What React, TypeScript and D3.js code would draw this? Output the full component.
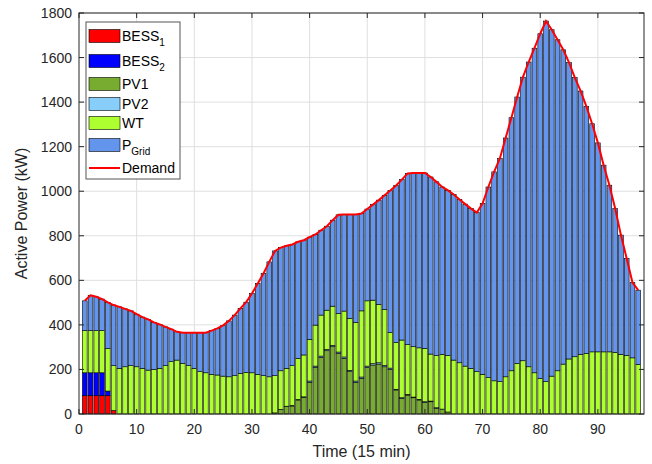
import React from 'react';
import * as d3 from 'd3';

// time steps (15 min)
const time = d3.range(1, 98);

const bess1 = [
  82, 82, 82, 82, 82, 16, 0, 0, 0, 0,
  0, 0, 0, 0, 0, 0, 0, 0, 0, 0,
  0, 0, 0, 0, 0, 0, 0, 0, 0, 0,
  0, 0, 0, 0, 0, 0, 0, 0, 0, 0,
  0, 0, 0, 0, 0, 0, 0, 0, 0, 0,
  0, 0, 0, 0, 0, 0, 0, 0, 0, 0,
  0, 0, 0, 0, 0, 0, 0, 0, 0, 0,
  0, 0, 0, 0, 0, 0, 0, 0, 0, 0,
  0, 0, 0, 0, 0, 0, 0, 0, 0, 0,
  0, 0, 0, 0, 0, 0, 0,
];

const bess2 = [
  103, 103, 103, 103, 21, 0, 0, 0, 0, 0,
  0, 0, 0, 0, 0, 0, 0, 0, 0, 0,
  0, 0, 0, 0, 0, 0, 0, 0, 0, 0,
  0, 0, 0, 0, 0, 0, 0, 0, 0, 0,
  0, 0, 0, 0, 0, 0, 0, 0, 0, 0,
  0, 0, 0, 0, 0, 0, 0, 0, 0, 0,
  0, 0, 0, 0, 0, 0, 0, 0, 0, 0,
  0, 0, 0, 0, 0, 0, 0, 0, 0, 0,
  0, 0, 0, 0, 0, 0, 0, 0, 0, 0,
  0, 0, 0, 0, 0, 0, 0,
];

const pv1 = [
  0, 0, 0, 0, 0, 0, 0, 0, 0, 0,
  0, 0, 0, 0, 0, 0, 0, 0, 0, 0,
  0, 0, 0, 0, 0, 0, 0, 0, 0, 0,
  0, 0, 0, 5, 21, 33, 36, 63, 75, 142,
  209, 254, 284, 302, 272, 250, 190, 142, 160, 209,
  220, 224, 212, 200, 108, 70, 85, 73, 63, 52,
  55, 25, 22, 9, 0, 0, 0, 0, 0, 0,
  0, 0, 0, 0, 0, 0, 0, 0, 0, 0,
  0, 0, 0, 0, 0, 0, 0, 0, 0, 0,
  0, 0, 0, 0, 0, 0, 0,
];

const pv2 = [
  0, 0, 0, 0, 0, 0, 0, 0, 0, 0,
  0, 0, 0, 0, 0, 0, 0, 0, 0, 0,
  0, 0, 0, 0, 0, 0, 0, 0, 0, 0,
  0, 0, 0, 0, 0, 2, 2, 2, 2, 6,
  6, 6, 6, 6, 6, 6, 6, 6, 6, 6,
  6, 6, 6, 6, 3, 3, 3, 3, 3, 3,
  3, 3, 0, 0, 0, 0, 0, 0, 0, 0,
  0, 0, 0, 0, 0, 0, 0, 0, 0, 0,
  0, 0, 0, 0, 0, 0, 0, 0, 0, 0,
  0, 0, 0, 0, 0, 0, 0,
];

const wt = [
  189, 189, 189, 189, 191, 201, 205, 212, 217, 212,
  205, 197, 200, 205, 217, 235, 242, 227, 217, 205,
  190, 185, 178, 175, 170, 167, 172, 182, 187, 185,
  178, 172, 167, 167, 173, 170, 179, 185, 188, 187,
  184, 184, 176, 176, 173, 206, 233, 263, 297, 293,
  285, 262, 251, 160, 210, 259, 224, 226, 231, 239,
  211, 234, 246, 254, 242, 230, 215, 205, 190, 178,
  163, 149, 145, 167, 194, 227, 239, 212, 185, 160,
  145, 170, 194, 224, 247, 257, 268, 272, 279, 279,
  279, 279, 277, 268, 263, 252, 223,
];

const grid = [
  134, 159, 152, 142, 207, 272, 276, 260, 246, 236,
  230, 228, 211, 197, 174, 146, 127, 138, 148, 160,
  175, 180, 196, 209, 228, 251, 272, 292, 315, 356,
  408, 459, 516, 560, 553, 550, 544, 523, 515, 459,
  407, 381, 377, 386, 443, 434, 467, 485, 437, 412,
  429, 468, 513, 637, 705, 720, 768, 780, 785, 788,
  795, 780, 751, 741, 743, 733, 727, 717, 714, 767,
  856, 938, 1002, 1072, 1136, 1196, 1273, 1368, 1457, 1547,
  1619, 1555, 1486, 1411, 1330, 1253, 1182, 1109, 1024, 938,
  838, 748, 645, 535, 435, 338, 333,
];

const demand = [
  508, 533, 526, 516, 501, 489, 481, 472, 463, 448,
  435, 425, 411, 402, 391, 381, 369, 365, 365, 365,
  365, 365, 374, 384, 398, 418, 444, 474, 502, 541,
  586, 631, 683, 732, 747, 755, 761, 773, 780, 794,
  806, 825, 843, 870, 894, 896, 896, 896, 900, 920,
  940, 960, 982, 1003, 1026, 1052, 1080, 1082, 1082, 1082,
  1064, 1042, 1019, 1004, 985, 963, 942, 922, 904, 945,
  1019, 1087, 1147, 1239, 1330, 1423, 1512, 1580, 1642, 1707,
  1764, 1725, 1680, 1635, 1577, 1510, 1450, 1381, 1303, 1217,
  1117, 1027, 922, 803, 698, 590, 556,
];

const xTicks = [0, 10, 20, 30, 40, 50, 60, 70, 80, 90];
const yTicks = [0, 200, 400, 600, 800, 1000, 1200, 1400, 1600, 1800];

const keys = ['bess1', 'bess2', 'pv1', 'pv2', 'wt', 'grid'];
const colors: Record<string, string> = {
  bess1: '#ff0000',
  bess2: '#0000ff',
  pv1: '#77ac30',
  pv2: '#87cefa',
  wt: '#adff2f',
  grid: '#6495ed',
};

const W = 652;
const H = 464;
const left = 79, right = 644, top = 13, bottom = 414;
const font = '"Liberation Sans", Arial, Helvetica, sans-serif';
const axisColor = '#262626';

export default function App() {
  const x = d3.scaleLinear().domain([0, 98]).range([left, right]);
  const y = d3.scaleLinear().domain([0, 1800]).range([bottom, top]);

  const rows = time.map((t, i) => ({
    t,
    bess1: bess1[i],
    bess2: bess2[i],
    pv1: pv1[i],
    pv2: pv2[i],
    wt: wt[i],
    grid: grid[i],
  }));
  const series = d3.stack<any>().keys(keys)(rows);
  const bw = (x(1) - x(0)) * 0.82;

  const line = d3
    .line<number>()
    .x((_, i) => x(time[i]))
    .y((d) => y(d));

  const legendItems = [
    { key: 'bess1', label: 'BESS', sub: '1', cy: 36 },
    { key: 'bess2', label: 'BESS', sub: '2', cy: 61 },
    { key: 'pv1', label: 'PV1', sub: '', cy: 84 },
    { key: 'pv2', label: 'PV2', sub: '', cy: 104 },
    { key: 'wt', label: 'WT', sub: '', cy: 123 },
    { key: 'grid', label: 'P', sub: 'Grid', cy: 145 },
  ];

  return (
    <svg
      width={W}
      height={H}
      style={{ position: 'absolute', left: 0, top: 0, background: '#fff' }}
      fontFamily={font}
    >
      <rect x={0} y={0} width={W} height={H} fill="#fff" />
      {/* grid */}
      {xTicks.slice(1).map((t) => (
        <line key={'gx' + t} x1={x(t)} x2={x(t)} y1={top} y2={bottom} stroke="#dfdfdf" strokeWidth={1} />
      ))}
      {yTicks.slice(1).map((t) => (
        <line key={'gy' + t} x1={left} x2={right} y1={y(t)} y2={y(t)} stroke="#dfdfdf" strokeWidth={1} />
      ))}

      {/* stacked bars */}
      {series.map((s) => (
        <g key={s.key} fill={colors[s.key]} stroke="#000" strokeWidth={0.6}>
          {s.map((d: any) =>
            d[1] - d[0] > 0 ? (
              <rect
                key={d.data.t}
                x={x(d.data.t) - bw / 2}
                y={y(d[1])}
                width={bw}
                height={y(d[0]) - y(d[1])}
              />
            ) : null
          )}
        </g>
      ))}

      {/* demand */}
      <path d={line(demand) || ''} fill="none" stroke="#ff0000" strokeWidth={2} />

      {/* axes box */}
      <rect x={left} y={top} width={right - left} height={bottom - top} fill="none" stroke={axisColor} strokeWidth={1} />
      {xTicks.map((t) => (
        <g key={'tx' + t}>
          <line x1={x(t)} x2={x(t)} y1={bottom} y2={bottom - 5} stroke={axisColor} />
          <line x1={x(t)} x2={x(t)} y1={top} y2={top + 5} stroke={axisColor} />
          <text x={x(t)} y={bottom + 20} textAnchor="middle" fontSize={14} fill={axisColor}>
            {t}
          </text>
        </g>
      ))}
      {yTicks.map((t) => (
        <g key={'ty' + t}>
          <line x1={left} x2={left + 5} y1={y(t)} y2={y(t)} stroke={axisColor} />
          <line x1={right} x2={right - 5} y1={y(t)} y2={y(t)} stroke={axisColor} />
          <text x={left - 7} y={y(t) + 5} textAnchor="end" fontSize={14} fill={axisColor}>
            {t}
          </text>
        </g>
      ))}
      <text x={(left + right) / 2} y={457} textAnchor="middle" fontSize={16} fill={axisColor}>
        Time (15 min)
      </text>
      <text
        transform={`translate(27,${(top + bottom) / 2}) rotate(-90)`}
        textAnchor="middle"
        fontSize={16}
        fill={axisColor}
      >
        Active Power (kW)
      </text>

      {/* legend */}
      <rect x={86} y={22} width={94} height={157} fill="#fff" stroke="#555" strokeWidth={1} />
      {legendItems.map((it) => (
        <g key={it.key}>
          <rect x={89} y={it.cy - 6.5} width={31} height={13} fill={colors[it.key]} stroke="#000" strokeWidth={0.6} />
          <text x={122} y={it.cy + 5} fontSize={14} fill="#000">
            {it.label}
            {it.sub ? (
              <tspan fontSize={10} dy={5}>
                {it.sub}
              </tspan>
            ) : null}
          </text>
        </g>
      ))}
      <line x1={89} x2={120} y1={168} y2={168} stroke="#ff0000" strokeWidth={2} />
      <text x={122} y={173} fontSize={14} fill="#000">
        Demand
      </text>
    </svg>
  );
}
